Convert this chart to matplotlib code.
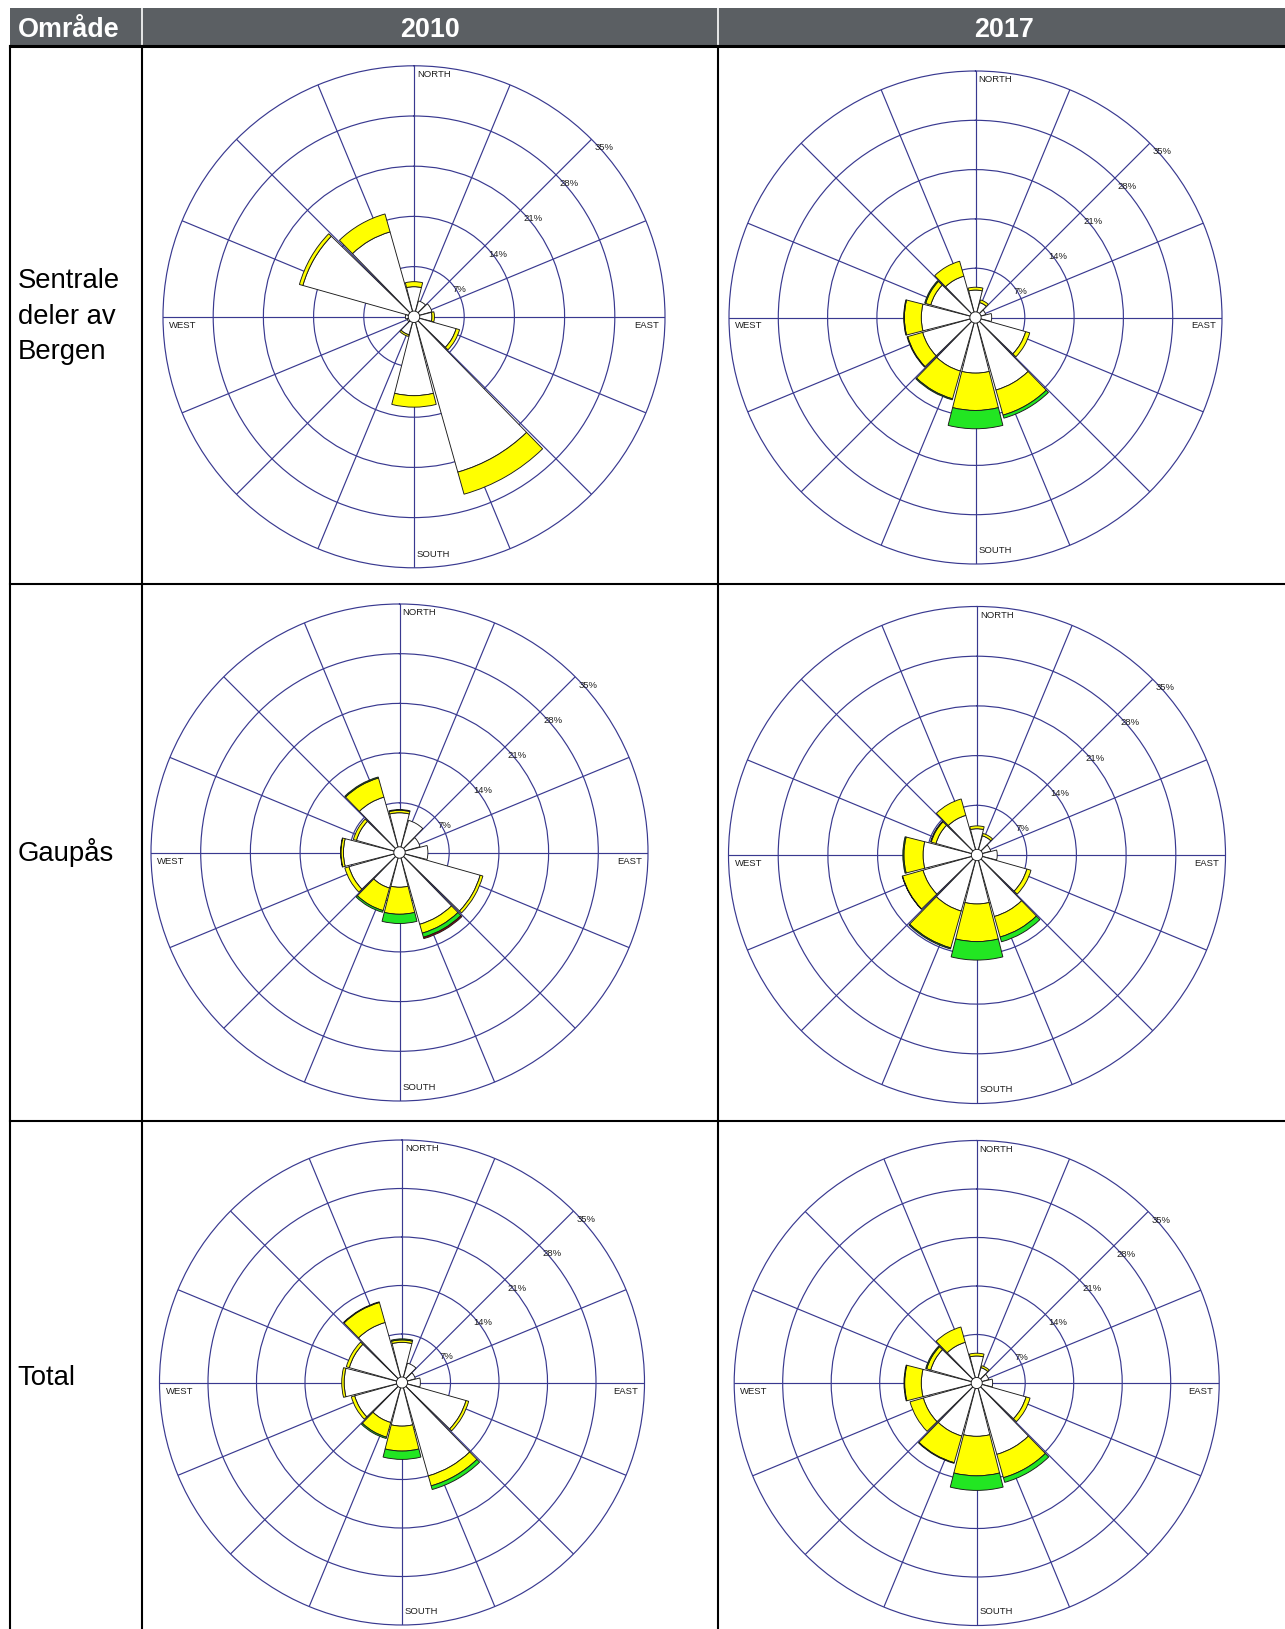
import numpy as np
import matplotlib
matplotlib.use("Agg")
import matplotlib.pyplot as plt
from matplotlib import font_manager
from matplotlib.patches import Rectangle

# ---------------- data ----------------
directions_deg = [0, 30, 60, 90, 120, 150, 180, 210, 240, 270, 300, 330]
class_colors = ["#ffffff", "#ffff00", "#22e622", "#b00000"]
ring_values = [7, 14, 21, 28, 35]
ring_labels = ["7%", "14%", "21%", "28%", "35%"]
compass_labels = ["NORTH", "EAST", "SOUTH", "WEST"]
col_labels = ["Område", "2010", "2017"]
row_labels = ["Sentrale\ndeler av\nBergen", "Gaupås", "Total"]

# frequency (%) per direction, stacked by speed class (white, yellow, green, red)
sentrale_2010_c1 = [4.2, 2.3, 2.6, 2.5, 6.1, 22.5, 11.0, 2.6, 1.0, 1.2, 16.1, 12.3]
sentrale_2010_c2 = [0.7, 0.0, 0.0, 0.35, 0.5, 3.2, 1.6, 0.25, 0.0, 0.0, 0.5, 2.6]
sentrale_2010_c3 = [0, 0, 0, 0, 0, 0, 0, 0, 0, 0, 0, 0]
sentrale_2010_c4 = [0, 0, 0, 0, 0, 0, 0, 0, 0, 0, 0, 0]

sentrale_2017_c1 = [3.9, 2.2, 1.5, 2.3, 7.4, 10.7, 7.9, 7.9, 7.8, 7.7, 6.6, 6.1]
sentrale_2017_c2 = [0.4, 0.4, 0.0, 0.0, 0.6, 3.7, 5.3, 4.1, 2.2, 2.4, 0.75, 2.2]
sentrale_2017_c3 = [0, 0, 0, 0, 0, 0.45, 2.6, 0.15, 0.1, 0.1, 0.15, 0]
sentrale_2017_c4 = [0, 0, 0, 0, 0, 0, 0, 0, 0, 0, 0, 0]

gaupas_2010_c1 = [5.6, 4.7, 3.0, 4.0, 11.8, 10.5, 4.9, 5.2, 7.4, 7.9, 6.3, 8.1]
gaupas_2010_c2 = [0.35, 0, 0, 0, 0.4, 1.3, 3.8, 3.3, 0.6, 0.35, 0.45, 2.8]
gaupas_2010_c3 = [0.1, 0, 0, 0, 0, 0.6, 1.3, 0.25, 0, 0.05, 0, 0.15]
gaupas_2010_c4 = [0, 0, 0, 0, 0, 0.2, 0, 0, 0, 0, 0, 0]

gaupas_2017_c1 = [3.7, 2.8, 2.0, 2.85, 7.3, 9.0, 6.9, 8.2, 7.9, 7.6, 6.0, 5.8]
gaupas_2017_c2 = [0.4, 0.35, 0, 0, 0.6, 3.0, 5.3, 5.4, 3.0, 2.7, 0.7, 2.4]
gaupas_2017_c3 = [0, 0, 0, 0, 0, 0.7, 2.6, 0.15, 0.05, 0.15, 0.1, 0]
gaupas_2017_c4 = [0, 0, 0, 0, 0, 0, 0, 0, 0, 0, 0, 0]

total_2010_c1 = [5.8, 2.9, 2.0, 2.65, 9.6, 14.0, 6.3, 6.0, 7.1, 8.35, 7.9, 9.0]
total_2010_c2 = [0.35, 0, 0, 0, 0.4, 1.5, 3.6, 2.2, 0.5, 0.35, 0.45, 3.0]
total_2010_c3 = [0.15, 0, 0, 0, 0, 0.55, 1.2, 0.2, 0, 0, 0, 0.1]
total_2010_c4 = [0, 0, 0, 0, 0, 0, 0, 0, 0, 0, 0, 0]

total_2017_c1 = [3.9, 2.3, 1.8, 2.3, 7.4, 10.7, 7.7, 7.95, 8.0, 8.0, 6.9, 6.1]
total_2017_c2 = [0.4, 0.3, 0, 0, 0.6, 3.5, 5.7, 4.0, 2.0, 2.4, 0.6, 2.3]
total_2017_c3 = [0, 0, 0, 0, 0, 0.7, 2.1, 0.1, 0, 0.1, 0.15, 0]
total_2017_c4 = [0, 0, 0, 0, 0, 0, 0, 0, 0, 0, 0, 0]

calm_radius = 0.8

panels = [
    [sentrale_2010_c1, sentrale_2010_c2, sentrale_2010_c3, sentrale_2010_c4],
    [sentrale_2017_c1, sentrale_2017_c2, sentrale_2017_c3, sentrale_2017_c4],
    [gaupas_2010_c1, gaupas_2010_c2, gaupas_2010_c3, gaupas_2010_c4],
    [gaupas_2017_c1, gaupas_2017_c2, gaupas_2017_c3, gaupas_2017_c4],
    [total_2010_c1, total_2010_c2, total_2010_c3, total_2010_c4],
    [total_2017_c1, total_2017_c2, total_2017_c3, total_2017_c4],
]

# ---------------- layout (pixels) ----------------
W, H, DPI = 1285, 1629, 100
rose_geom = [  # centre x, centre y, radius of outer ring
    (414.0, 316.8, 251.0),
    (975.5, 317.5, 246.5),
    (399.5, 852.5, 248.5),
    (977.0, 855.0, 248.5),
    (402.0, 1382.5, 242.5),
    (976.7, 1383.0, 242.5),
]
GRID = "#393990"
HEADER_BG = "#5b5f63"

names = {f.name for f in font_manager.fontManager.ttflist}
SANS = "Liberation Sans" if "Liberation Sans" in names else "DejaVu Sans"
if "Liberation Sans Narrow" in names:
    HEAD_FONT, HEAD_SIZE = "Liberation Sans Narrow", 22.5
else:
    HEAD_FONT, HEAD_SIZE = SANS, 19.4

fig = plt.figure(figsize=(W / DPI, H / DPI), dpi=DPI)
fig.patch.set_facecolor("white")

# background axes in pixel coordinates for the table
bg = fig.add_axes([0, 0, 1, 1])
bg.set_xlim(0, W)
bg.set_ylim(H, 0)
bg.axis("off")

x_left, x_c1, x_c2, x_right = 10.4, 142.0, 718.0, W + 5
y_head_top, y_head_bot = 8.3, 45.7
y_rows = [45.7, 583.8, 1121.0, H + 5]

bg.add_patch(Rectangle((x_left, y_head_top), x_right - x_left, y_head_bot - y_head_top,
                       facecolor=HEADER_BG, edgecolor="none", zorder=1))
for xs in (x_c1, x_c2):
    bg.plot([xs, xs], [y_head_top, y_head_bot], color="white", lw=1.2, zorder=2)
    bg.plot([xs, xs], [y_head_bot, H + 5], color="black", lw=1.5, zorder=2)
bg.plot([x_left, x_left], [y_head_bot, H + 5], color="black", lw=1.5, zorder=2)
bg.plot([x_left, x_right], [y_head_bot, y_head_bot], color="black", lw=2.2, zorder=3)
for yy in y_rows[1:3]:
    bg.plot([x_left, x_right], [yy, yy], color="black", lw=1.5, zorder=2)

head_base = 36.5
bg.text(17.7, head_base, col_labels[0], fontfamily=HEAD_FONT, fontweight="bold",
        fontsize=HEAD_SIZE, color="white", ha="left", va="baseline", zorder=4)
bg.text((x_c1 + x_c2) / 2, head_base, col_labels[1], fontfamily=HEAD_FONT, fontweight="bold",
        fontsize=HEAD_SIZE, color="white", ha="center", va="baseline", zorder=4)
bg.text(1004.0, head_base, col_labels[2], fontfamily=HEAD_FONT, fontweight="bold",
        fontsize=HEAD_SIZE, color="white", ha="center", va="baseline", zorder=4)

row_centres = [314.7, 852.4, 1376.4]
line_gap = 35.5
for lab, yc in zip(row_labels, row_centres):
    lines = lab.split("\n")
    n = len(lines)
    for i, ln in enumerate(lines):
        yb = yc + 9.0 + (i - (n - 1) / 2) * line_gap
        bg.text(17.5, yb, ln, fontfamily=SANS, fontsize=19.8, color="black",
                ha="left", va="baseline")

theta = np.deg2rad(directions_deg)
bar_width = np.deg2rad(28.5)
calm_t = np.linspace(0, 2 * np.pi, 181)

for classes, (cx, cy, R) in zip(panels, rose_geom):
    ax = fig.add_axes([(cx - R) / W, 1 - (cy + R) / H, 2 * R / W, 2 * R / H],
                      projection="polar")
    ax.set_theta_zero_location("N")
    ax.set_theta_direction(-1)
    ax.set_ylim(0, ring_values[-1])
    ax.set_yticks(ring_values[:-1])
    ax.set_yticklabels([])
    ax.set_xticks(np.deg2rad(np.arange(0, 360, 22.5)))
    ax.set_xticklabels([])
    ax.tick_params(length=0)
    ax.grid(True, color=GRID, lw=0.85)
    ax.spines["polar"].set_color(GRID)
    ax.spines["polar"].set_linewidth(0.85)
    ax.set_axisbelow(True)
    ax.patch.set_alpha(0)

    bottom = np.zeros(len(directions_deg))
    for vals, col in zip(classes, class_colors):
        v = np.asarray(vals, dtype=float)
        m = v > 0
        if m.any():
            ax.bar(theta[m], v[m], width=bar_width, bottom=bottom[m], color=col,
                   edgecolor="#1a1a1a", linewidth=0.65, zorder=3)
        bottom = bottom + v
    ax.fill(calm_t, np.full_like(calm_t, calm_radius), facecolor="white",
            edgecolor="#1a1a1a", linewidth=0.65, zorder=4)

    px = 1.0 / (2 * R)
    fs = 6.8
    tc = "#1e1e1e"
    ax.text(0.5 + 3 * px, 1 - 4 * px, compass_labels[0], transform=ax.transAxes,
            ha="left", va="top", fontsize=fs, fontfamily=SANS, color=tc)
    ax.text(0.5 + 3 * px, 11 * px, compass_labels[2], transform=ax.transAxes,
            ha="left", va="baseline", fontsize=fs, fontfamily=SANS, color=tc)
    ax.text(6 * px, 0.5 - 4 * px, compass_labels[3], transform=ax.transAxes,
            ha="left", va="top", fontsize=fs, fontfamily=SANS, color=tc)
    ax.text(1 - 6 * px, 0.5 - 4 * px, compass_labels[1], transform=ax.transAxes,
            ha="right", va="top", fontsize=fs, fontfamily=SANS, color=tc)
    for rv, rl in zip(ring_values, ring_labels):
        f = 0.5 * rv / ring_values[-1]
        ax.text(0.5 + f * np.cos(np.pi / 4) + 3 * px, 0.5 + f * np.sin(np.pi / 4) - 4 * px,
                rl, transform=ax.transAxes, ha="left", va="top", fontsize=fs,
                fontfamily=SANS, color=tc)

fig.savefig("out.png", dpi=DPI, facecolor="white")
